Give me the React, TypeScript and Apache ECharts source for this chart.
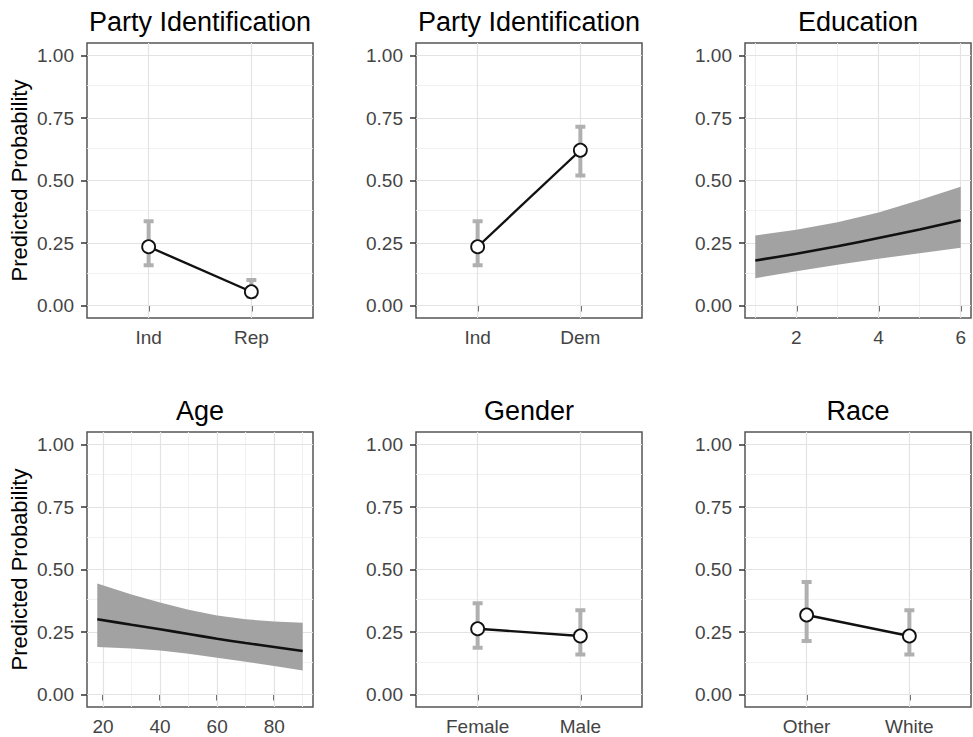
import React, { useEffect, useRef } from "react";
import * as echarts from "echarts";

// ---------- data ----------
const yTicks = [0, 0.25, 0.5, 0.75, 1];
const yMinor = [0.125, 0.375, 0.625, 0.875];

const repTitle = "Party Identification";
const repCats = ["Ind", "Rep"];
const repMean = [0.235, 0.055];
const repLow = [0.161, 0.035];
const repHigh = [0.337, 0.102];

const demTitle = "Party Identification";
const demCats = ["Ind", "Dem"];
const demMean = [0.235, 0.621];
const demLow = [0.161, 0.52];
const demHigh = [0.337, 0.715];

const genderTitle = "Gender";
const genderCats = ["Female", "Male"];
const genderMean = [0.263, 0.234];
const genderLow = [0.187, 0.16];
const genderHigh = [0.365, 0.337];

const raceTitle = "Race";
const raceCats = ["Other", "White"];
const raceMean = [0.318, 0.234];
const raceLow = [0.214, 0.16];
const raceHigh = [0.45, 0.337];

const eduTitle = "Education";
const eduX = [1, 2, 3, 4, 5, 6];
const eduMean = [0.18, 0.207, 0.237, 0.27, 0.304, 0.341];
const eduLow = [0.109, 0.137, 0.163, 0.187, 0.209, 0.231];
const eduHigh = [0.28, 0.303, 0.333, 0.372, 0.422, 0.475];
const eduTicks = [2, 4, 6];
const eduMinor = [1, 3, 5];

const ageTitle = "Age";
const ageX = [18, 30, 40, 50, 60, 70, 80, 90];
const ageMean = [0.301, 0.279, 0.261, 0.242, 0.223, 0.206, 0.19, 0.174];
const ageLow = [0.19, 0.184, 0.176, 0.163, 0.147, 0.131, 0.114, 0.096];
const ageHigh = [0.444, 0.4, 0.368, 0.339, 0.316, 0.301, 0.292, 0.287];
const ageTicks = [20, 40, 60, 80];
const ageMinor = [30, 50, 70, 90];

const yName = "Predicted Probability";

// ---------- layout ----------
const FONT = "'Liberation Sans', Arial, Helvetica, sans-serif";
const colLeft = [87, 416, 745];
const rowTop = [43, 432];
const PW = 226;
const PH = 275;

type Panel =
  | { kind: "cat"; title: string; cats: string[]; mean: number[]; low: number[]; high: number[] }
  | {
      kind: "cont";
      title: string;
      x: number[];
      mean: number[];
      low: number[];
      high: number[];
      ticks: number[];
      minor: number[];
    };

const panels: Panel[] = [
  { kind: "cat", title: repTitle, cats: repCats, mean: repMean, low: repLow, high: repHigh },
  { kind: "cat", title: demTitle, cats: demCats, mean: demMean, low: demLow, high: demHigh },
  { kind: "cont", title: eduTitle, x: eduX, mean: eduMean, low: eduLow, high: eduHigh, ticks: eduTicks, minor: eduMinor },
  { kind: "cont", title: ageTitle, x: ageX, mean: ageMean, low: ageLow, high: ageHigh, ticks: ageTicks, minor: ageMinor },
  { kind: "cat", title: genderTitle, cats: genderCats, mean: genderMean, low: genderLow, high: genderHigh },
  { kind: "cat", title: raceTitle, cats: raceCats, mean: raceMean, low: raceLow, high: raceHigh },
];

function buildOption() {
  const grid: any[] = [];
  const xAxis: any[] = [];
  const yAxis: any[] = [];
  const series: any[] = [];
  const graphic: any[] = [];

  panels.forEach((p, i) => {
    const col = i % 3;
    const row = Math.floor(i / 3);
    const left = colLeft[col];
    const top = rowTop[row];
    grid.push({
      left,
      top,
      width: PW,
      height: PH,
      show: true,
      backgroundColor: "#ffffff",
      borderColor: "#555555",
      borderWidth: 1.5,
      containLabel: false,
    });

    let xmin: number, xmax: number, xt: number[], xm: number[];
    let fmt: (v: number) => string;
    if (p.kind === "cat") {
      xmin = 0.4;
      xmax = p.cats.length + 0.6;
      xt = p.cats.map((_, k) => k + 1);
      xm = [];
      const cats = p.cats;
      fmt = (v: number) => cats[Math.round(v) - 1] ?? "";
    } else {
      const lo = p.x[0];
      const hi = p.x[p.x.length - 1];
      const pad = (hi - lo) * 0.05;
      xmin = lo - pad;
      xmax = hi + pad;
      xt = p.ticks;
      xm = p.minor;
      fmt = (v: number) => String(v);
    }

    xAxis.push({
      type: "value",
      gridIndex: i,
      min: xmin,
      max: xmax,
      axisLine: { show: false },
      axisTick: {
        show: true,
        customValues: xt,
        length: 6,
        lineStyle: { color: "#333333", width: 1.5 },
      },
      axisLabel: {
        show: true,
        customValues: xt,
        formatter: fmt,
        color: "#444444",
        fontSize: 19,
        fontFamily: FONT,
        margin: 10,
      },
      splitLine: { show: false },
    });

    yAxis.push({
      type: "value",
      gridIndex: i,
      min: -0.05,
      max: 1.05,
      name: col === 0 ? yName : "",
      nameLocation: "middle",
      nameGap: 57,
      nameRotate: 90,
      nameTextStyle: { fontSize: 22, color: "#000000", fontFamily: FONT },
      axisLine: { show: false },
      axisTick: {
        show: true,
        customValues: yTicks,
        length: 6,
        lineStyle: { color: "#333333", width: 1.5 },
      },
      axisLabel: {
        show: true,
        customValues: yTicks,
        formatter: (v: number) => v.toFixed(2),
        color: "#444444",
        fontSize: 19,
        fontFamily: FONT,
        margin: 13,
      },
      splitLine: { show: false },
    });

    // grid lines
    const major = { color: "#e3e3e3", width: 1.2, type: "solid" };
    const minorS = { color: "#efefef", width: 0.9, type: "solid" };
    series.push({
      type: "line",
      xAxisIndex: i,
      yAxisIndex: i,
      data: [],
      silent: true,
      z: 1,
      markLine: {
        silent: true,
        symbol: ["none", "none"],
        label: { show: false },
        z: 1,
        animation: false,
        data: [
          ...yMinor.map((v) => ({ yAxis: v, lineStyle: minorS })),
          ...xm.map((v) => ({ xAxis: v, lineStyle: minorS })),
          ...yTicks.map((v) => ({ yAxis: v, lineStyle: major })),
          ...xt.map((v) => ({ xAxis: v, lineStyle: major })),
        ],
      },
    });

    if (p.kind === "cat") {
      series.push({
        type: "custom",
        xAxisIndex: i,
        yAxisIndex: i,
        z: 2,
        data: p.cats.map((_, k) => [k + 1, p.low[k], p.high[k]]),
        encode: { x: 0, y: [1, 2] },
        renderItem: (_params: any, api: any) => {
          const x = api.value(0);
          const pLo = api.coord([x, api.value(1)]);
          const pHi = api.coord([x, api.value(2)]);
          const hw = 5;
          const style = { stroke: "#b0b0b0", lineWidth: 4, fill: "none" };
          return {
            type: "group",
            children: [
              { type: "line", shape: { x1: pLo[0], y1: pLo[1], x2: pHi[0], y2: pHi[1] }, style },
              { type: "line", shape: { x1: pHi[0] - hw, y1: pHi[1], x2: pHi[0] + hw, y2: pHi[1] }, style },
              { type: "line", shape: { x1: pLo[0] - hw, y1: pLo[1], x2: pLo[0] + hw, y2: pLo[1] }, style },
            ],
          };
        },
      });
      const pts = p.cats.map((_, k) => [k + 1, p.mean[k]]);
      series.push({
        type: "line",
        xAxisIndex: i,
        yAxisIndex: i,
        z: 3,
        data: pts,
        symbol: "none",
        showSymbol: false,
        lineStyle: { color: "#111111", width: 2.4 },
      });
      series.push({
        type: "scatter",
        xAxisIndex: i,
        yAxisIndex: i,
        z: 4,
        data: pts,
        symbol: "circle",
        symbolSize: 13,
        itemStyle: { color: "#ffffff", borderColor: "#111111", borderWidth: 1.8, opacity: 1 },
      });
    } else {
      const xs = p.x;
      const lows = p.low;
      const highs = p.high;
      series.push({
        type: "custom",
        xAxisIndex: i,
        yAxisIndex: i,
        z: 2,
        data: xs.map((x, k) => [x, lows[k], highs[k]]),
        encode: { x: 0, y: [1, 2] },
        renderItem: (params: any, api: any) => {
          if (params.dataIndex !== 0) return null;
          const upper = xs.map((x, k) => api.coord([x, highs[k]]));
          const lower = xs.map((x, k) => api.coord([x, lows[k]])).reverse();
          return {
            type: "polygon",
            shape: { points: upper.concat(lower) },
            style: { fill: "#a2a2a2", stroke: "none" },
          };
        },
      });
      series.push({
        type: "line",
        xAxisIndex: i,
        yAxisIndex: i,
        z: 3,
        data: xs.map((x, k) => [x, p.mean[k]]),
        symbol: "none",
        showSymbol: false,
        smooth: 0.3,
        lineStyle: { color: "#111111", width: 2.6 },
      });
    }

    graphic.push({
      type: "text",
      x: left + PW / 2,
      y: top - 21,
      style: {
        text: p.title,
        textAlign: "center",
        textVerticalAlign: "middle",
        fontSize: 27,
        fontFamily: FONT,
        fill: "#000000",
      },
    });
  });

  return {
    animation: false,
    backgroundColor: "#ffffff",
    grid,
    xAxis,
    yAxis,
    series,
    graphic,
  };
}

export default function App() {
  const ref = useRef<HTMLDivElement>(null);
  useEffect(() => {
    if (!ref.current) return;
    const chart = echarts.init(ref.current, undefined, { renderer: "svg" });
    chart.setOption(buildOption() as any);
    return () => chart.dispose();
  }, []);
  return (
    <div
      ref={ref}
      style={{ position: "fixed", left: 0, top: 0, width: 973, height: 737, background: "#fff" }}
    />
  );
}
